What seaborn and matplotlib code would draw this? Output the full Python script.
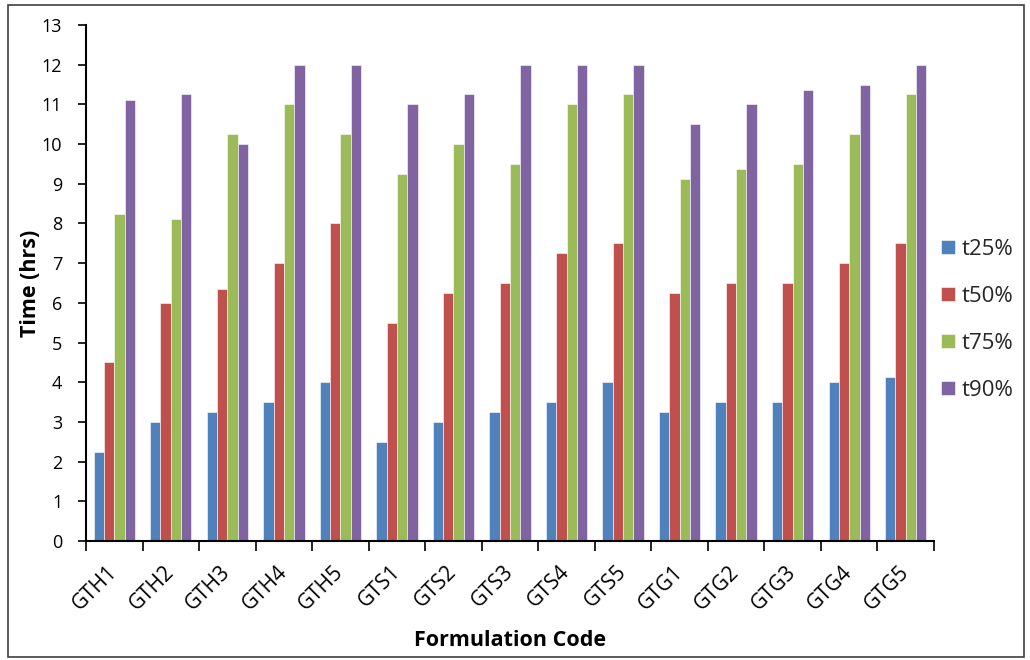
import matplotlib
matplotlib.use("Agg")
import matplotlib.pyplot as plt
import seaborn as sns
import pandas as pd
from matplotlib.patches import Rectangle
from matplotlib.ticker import FixedLocator

codes = ["GTH1", "GTH2", "GTH3", "GTH4", "GTH5",
         "GTS1", "GTS2", "GTS3", "GTS4", "GTS5",
         "GTG1", "GTG2", "GTG3", "GTG4", "GTG5"]
t25 = [2.25, 3.0, 3.25, 3.5, 4.0, 2.5, 3.0, 3.25, 3.5, 4.0, 3.25, 3.5, 3.5, 4.0, 4.12]
t50 = [4.5, 6.0, 6.35, 7.0, 8.0, 5.5, 6.25, 6.5, 7.25, 7.5, 6.25, 6.5, 6.5, 7.0, 7.5]
t75 = [8.25, 8.12, 10.25, 11.0, 10.25, 9.25, 10.0, 9.5, 11.0, 11.25, 9.12, 9.37, 9.5, 10.25, 11.25]
t90 = [11.12, 11.25, 10.0, 12.0, 12.0, 11.0, 11.25, 12.0, 12.0, 12.0, 10.5, 11.0, 11.37, 11.5, 12.0]
series_names = ["t25%", "t50%", "t75%", "t90%"]
colors = ["#4F81BD", "#C0504D", "#9BBB59", "#8064A2"]

rows = []
for name, vals in zip(series_names, [t25, t50, t75, t90]):
    for c, v in zip(codes, vals):
        rows.append({"Formulation Code": c, "series": name, "Time": v})
df = pd.DataFrame(rows)

sns.set_theme(style="white")
plt.rcParams["font.family"] = ["Open Sans", "DejaVu Sans"]

fig = plt.figure(figsize=(10.3, 6.6), dpi=100)
ax = fig.add_axes([86 / 1030, 1 - 541 / 660, (934 - 86) / 1030, (541 - 25) / 660])

sns.barplot(data=df, x="Formulation Code", y="Time", hue="series",
            order=codes, hue_order=series_names, palette=colors,
            saturation=1, width=0.73, ax=ax, edgecolor="white", linewidth=0.4)

ax.set_xlim(-0.5, len(codes) - 0.5)
ax.set_ylim(0, 13)
ax.set_yticks(range(0, 14))
ax.tick_params(axis="y", which="major", length=6, width=1.2, color="black",
               labelsize=13, pad=11, left=True, direction="out", labelcolor="black")
ax.tick_params(axis="x", which="major", length=0, labelsize=15, pad=20, labelcolor="black")
ax.xaxis.set_minor_locator(FixedLocator([i - 0.5 for i in range(len(codes) + 1)]))
ax.tick_params(axis="x", which="minor", length=7, width=1.2, color="black",
               bottom=True, direction="out")
for lab in ax.get_xticklabels():
    lab.set_rotation(45)
    lab.set_ha("right")
    lab.set_rotation_mode("anchor")
    lab.set_va("center")

for s in ["top", "right"]:
    ax.spines[s].set_visible(False)
for s in ["left", "bottom"]:
    ax.spines[s].set_color("black")
    ax.spines[s].set_linewidth(1.5)

ax.set_xlabel("Formulation Code", fontsize=15.5, fontweight="bold", color="black")
ax.set_ylabel("Time (hrs)", fontsize=15.5, fontweight="bold", color="black")
ax.xaxis.set_label_coords(0.5, -(641 - 541) / 516, transform=ax.transAxes)
ax.yaxis.set_label_coords(-(86 - 30) / 848, 0.5, transform=ax.transAxes)
ax.xaxis.label.set_va("center")
ax.yaxis.label.set_va("center")

handles, labels = ax.get_legend_handles_labels()
if ax.legend_:
    ax.legend_.remove()
fig.legend(handles, labels, loc="center left", bbox_to_anchor=(941 / 1030, 1 - 320 / 660),
           frameon=False, fontsize=16, handlelength=0.62, handleheight=0.62,
           handletextpad=0.3, labelspacing=1.17, borderpad=0, borderaxespad=0)

fig.add_artist(Rectangle((8 / 1030, 3 / 660), 1016 / 1030, 652 / 660,
                         transform=fig.transFigure, fill=False,
                         edgecolor="#404040", linewidth=1.2))

fig.savefig("out.png", dpi=100)
